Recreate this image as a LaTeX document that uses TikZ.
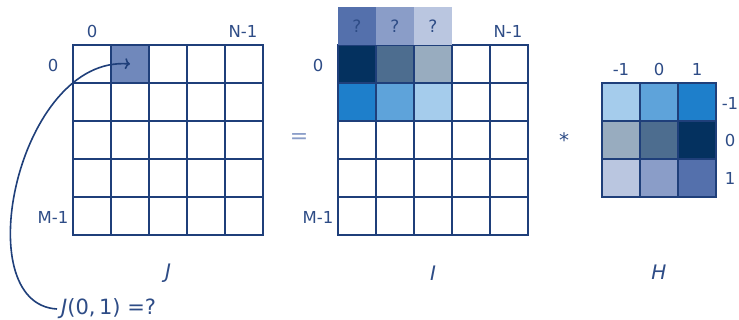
\documentclass[tikz,border=0pt]{standalone}
\usepackage{fontspec}
\setmainfont{DejaVu Sans}
\usetikzlibrary{arrows.meta}
\definecolor{gridc}{HTML}{1F3F7A}
\definecolor{textc}{HTML}{2E4C86}
\definecolor{eqc}{HTML}{8A9DC8}
\definecolor{hlc}{HTML}{7088BB}
\definecolor{cA}{HTML}{04315F}
\definecolor{cB}{HTML}{4D6D8F}
\definecolor{cC}{HTML}{98ACBF}
\definecolor{cD}{HTML}{1E7FCB}
\definecolor{cE}{HTML}{5EA3DA}
\definecolor{cF}{HTML}{A5CCEC}
\definecolor{cG}{HTML}{5470AC}
\definecolor{cH}{HTML}{8A9DC8}
\definecolor{cI}{HTML}{BAC6E0}
\begin{document}
\begin{tikzpicture}[x=1pt,y=-1pt,
  cell/.style={draw=gridc, line width=1.4pt, minimum size=38pt, inner sep=0pt, outer sep=0pt},
  qbox/.style={minimum size=38pt, inner sep=0pt, outer sep=0pt, text=textc, font=\fontsize{17}{19}\selectfont},
  lab/.style={text=textc, font=\fontsize{16.5}{19}\selectfont, inner sep=0pt},
  big/.style={text=textc, font=\fontsize{20}{22}\selectfont\itshape, inner sep=0pt},
  conn/.style={draw=gridc, line width=1.6pt, -{To[length=5pt,width=11pt]}}]
\useasboundingbox (0,0) rectangle (739,320);
% grids J and I
\foreach \r in {0,...,4}{\foreach \c in {0,...,4}{
  \node[cell] (J\r\c) at ({73+38*\c+19},{45+38*\r+19}) {};
  \node[cell] (I\r\c) at ({338+38*\c+19},{45+38*\r+19}) {};
}}
\node[cell, fill=hlc] at (J01) {};
\foreach \r/\c/\col in {0/0/cA,0/1/cB,0/2/cC,1/0/cD,1/1/cE,1/2/cF}{
  \node[cell, fill=\col] at (I\r\c) {};
}
\foreach \c/\col in {0/cG,1/cH,2/cI}{
  \node[qbox, fill=\col, anchor=south] (q\c) at (I0\c.north) {?};
}
% H grid
\foreach \r/\c/\col in {0/0/cF,0/1/cE,0/2/cD,1/0/cC,1/1/cB,1/2/cA,2/0/cI,2/1/cH,2/2/cG}{
  \node[cell, fill=\col] (H\r\c) at ({602+38*\c+19},{83+38*\r+19}) {};
}
% labels
\node[lab] (jc0) at (92,31) {0};
\node[lab] (jcn) at (243,31) {N-1};
\node[lab] (jr0) at (53,65) {0};
\node[lab] (jrm) at (53,217) {M-1};
\node[lab] (ic0) at (318,65) {0};
\node[lab] (icn) at (508,31) {N-1};
\node[lab] (irm) at (318,217) {M-1};
\node[lab] (hc0) at (621,69) {-1};
\node[lab] (hc1) at (659,69) {0};
\node[lab] (hc2) at (697,69) {1};
\node[lab] (hr0) at (730,103) {-1};
\node[lab] (hr1) at (730,140) {0};
\node[lab] (hr2) at (730,178) {1};
\node[lab, text=eqc, font=\fontsize{22}{24}\selectfont] (eq) at (299,139) {=};
\node[lab, font=\fontsize{20}{22}\selectfont] (star) at (564,140) {*};
\node[big] (Jl) at (168,273) {J};
\node[big] (Il) at (433,273) {I};
\node[big] (Hl) at (659,272) {H};
\node[lab, font=\fontsize{21}{23}\selectfont, anchor=west, inner sep=4pt] (qq) at (57,309) {\textit{J}(0,\,1) =?};
\draw[conn] (qq.west) .. controls (-34,304) and (18,55) .. (J01.center);
\end{tikzpicture}
\end{document}
